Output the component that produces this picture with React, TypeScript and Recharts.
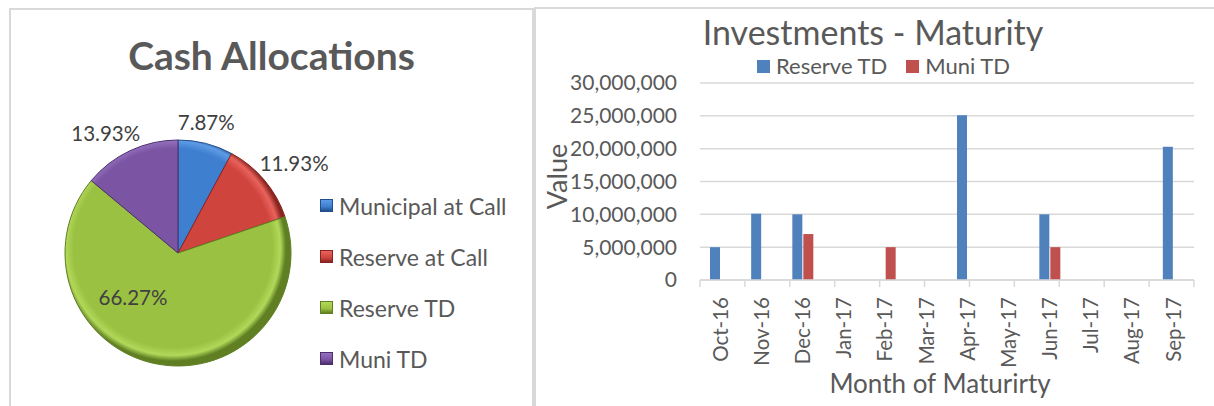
import { PieChart, Pie, Cell, Legend, BarChart, Bar, XAxis, YAxis, CartesianGrid, Label } from 'recharts'

// ---- data ----
const allocNames = ['Municipal at Call', 'Reserve at Call', 'Reserve TD', 'Muni TD']
const allocPct = [7.87, 11.93, 66.27, 13.93]

const months = ['Oct-16', 'Nov-16', 'Dec-16', 'Jan-17', 'Feb-17', 'Mar-17', 'Apr-17', 'May-17', 'Jun-17', 'Jul-17', 'Aug-17', 'Sep-17']
const reserveTD = [5000000, 10100000, 10000000, 0, 0, 0, 25100000, 0, 10000000, 0, 0, 20300000]
const muniTD = [0, 0, 7000000, 0, 5000000, 0, 0, 0, 5000000, 0, 0, 0]
const yTicks = [0, 5000000, 10000000, 15000000, 20000000, 25000000, 30000000]

// ---- styles ----
const FONT = 'Lato, "Noto Sans", sans-serif'
const sliceColors = [
  { base: '#3f7fd0', light: '#5d9be6', dark: '#1f4f8c' },
  { base: '#d0443e', light: '#e8625b', dark: '#8a2420' },
  { base: '#9bc143', light: '#b2d85a', dark: '#5f7f22' },
  { base: '#7b55a3', light: '#9470bd', dark: '#4b2f6d' },
]
const BLUE = '#4f81bd'
const RED = '#c0504d'
const GRID = '#d9d9d9'
const PIE_CX = 173
const PIE_CY = 248
const PIE_R = 113
// radius / angle nudge for each pie label (Excel "best fit" placement)
const labelPlace = [
  { r: 134, da: 2 },
  { r: 147, da: -2.4 },
  { r: 63, da: -35 },
  { r: 140, da: 6 },
]

const pieData = allocNames.map((name, i) => ({ name, value: allocPct[i] }))
const barData = months.map((month, i) => ({ month, reserve: reserveTD[i], muni: muniTD[i] }))
const edgeTicks = months.map((_, i) => i).concat(months.length)

const RAD = Math.PI / 180

function PieLabel({ cx, cy, midAngle, index, value }: any) {
  const p = labelPlace[index]
  const a = (midAngle + p.da) * RAD
  const x = cx + p.r * Math.cos(a)
  const y = cy - p.r * Math.sin(a)
  return (
    <text x={x} y={y} textAnchor="middle" dominantBaseline="central"
      style={{ fontFamily: FONT, fontSize: 20.5, fill: '#404040' }}>
      {value.toFixed(2)}%
    </text>
  )
}

function PieLegend() {
  return (
    <div style={{ fontFamily: FONT }}>
      {allocNames.map((n, i) => (
        <div key={n} style={{ display: 'flex', alignItems: 'center', height: 51 }}>
          <span style={{
            width: 11, height: 11, marginRight: 6, display: 'inline-block',
            background: `linear-gradient(180deg, ${sliceColors[i].light}, ${sliceColors[i].base} 60%, ${sliceColors[i].dark})`,
            border: `1px solid ${sliceColors[i].dark}`,
          }} />
          <span style={{ fontSize: 23, color: '#595959' }}>{n}</span>
        </div>
      ))}
    </div>
  )
}

function MonthTick({ x, y, payload }: any) {
  return (
    <text x={x} y={y + 16} transform={`rotate(-90, ${x}, ${y + 16})`} textAnchor="end" dy="0.35em"
      style={{ fontFamily: FONT, fontSize: 20.5, fill: '#595959' }}>
      {payload.value}
    </text>
  )
}

const NoTick = () => <g />

export default function App() {
  return (
    <div style={{ position: 'absolute', left: 0, top: 0, width: 1214, height: 406, background: '#fff', overflow: 'hidden', fontFamily: FONT }}>
      {/* panel frames */}
      <div style={{ position: 'absolute', left: 9, top: 8, width: 525, height: 400, boxSizing: 'border-box', borderLeft: `2px solid ${GRID}`, borderTop: `2px solid ${GRID}`, borderRight: `2px solid ${GRID}` }} />
      <div style={{ position: 'absolute', left: 534, top: 7, width: 690, height: 400, boxSizing: 'border-box', borderLeft: `2px solid ${GRID}`, borderTop: `2px solid ${GRID}` }} />

      <div style={{ position: 'absolute', left: 9, top: 32, width: 525, textAlign: 'center', fontSize: 39, fontWeight: 700, color: '#595959', lineHeight: 1.2 }}>
        Cash Allocations
      </div>

      <div style={{ position: 'absolute', left: 0, top: 0 }}>
        <PieChart width={534} height={406}>
          <defs>
            {sliceColors.map((c, i) => (
              <radialGradient key={i} id={`slice${i}`} gradientUnits="userSpaceOnUse" cx={PIE_CX} cy={PIE_CY} r={PIE_R}>
                <stop offset="0%" stopColor={c.base} />
                <stop offset="88%" stopColor={c.base} />
                <stop offset="95%" stopColor={c.light} />
                <stop offset="100%" stopColor={c.dark} />
              </radialGradient>
            ))}
          </defs>
          <Pie data={pieData} dataKey="value" nameKey="name" cx={PIE_CX} cy={PIE_CY} outerRadius={PIE_R}
            startAngle={90} endAngle={-270} label={PieLabel} labelLine={false} isAnimationActive={false}>
            {pieData.map((d, i) => (
              <Cell key={d.name} fill={`url(#slice${i})`} stroke={sliceColors[i].dark} strokeWidth={1} />
            ))}
          </Pie>
          <Legend content={<PieLegend />} wrapperStyle={{ position: 'absolute', left: 320, top: 180, width: 210 }} />
        </PieChart>
      </div>

      <div style={{ position: 'absolute', left: 534, top: 12, width: 680, textAlign: 'center', lineHeight: 1.2 }}>
        <div style={{ fontSize: 34, color: '#595959', paddingRight: 2 }}>Investments - Maturity</div>
      </div>
      <div style={{ position: 'absolute', left: 757, top: 53, display: 'flex', alignItems: 'center', fontSize: 22, color: '#595959', lineHeight: 1.2 }}>
        <span style={{ width: 13, height: 13, background: BLUE, display: 'inline-block', marginRight: 6 }} />
        <span style={{ marginRight: 19 }}>Reserve TD</span>
        <span style={{ width: 13, height: 13, background: RED, display: 'inline-block', marginRight: 6 }} />
        <span>Muni TD</span>
      </div>

      <div style={{ position: 'absolute', left: 534, top: 7 }}>
        <BarChart width={680} height={399} data={barData} margin={{ top: 76, right: 20, bottom: 0, left: 0 }}
          barGap={1} barSize={10}>
          <CartesianGrid xAxisId={1} horizontal vertical={false} stroke={GRID} strokeWidth={1.5} />
          {/* boundary tick marks between month bands, closest to the plot */}
          <XAxis xAxisId={0} type="number" domain={[0, months.length]} ticks={edgeTicks} tick={<NoTick />} interval={0}
            height={1} axisLine={{ stroke: GRID, strokeWidth: 1.5 }} tickLine={{ stroke: GRID, strokeWidth: 1.5 }} tickSize={7} />
          <XAxis xAxisId={1} dataKey="month" interval={0} height={125} axisLine={false} tickLine={false} tickSize={0} tickMargin={0}
            tick={<MonthTick />}>
            <Label content={({ viewBox }: any) => (
              <text x={viewBox.x + viewBox.width / 2 - 7} y={viewBox.y + 102} textAnchor="middle" dominantBaseline="central"
                style={{ fontFamily: FONT, fontSize: 26, fill: '#595959' }}>Month of Maturirty</text>
            )} />
          </XAxis>
          <YAxis width={166} domain={[0, 30000000]} ticks={yTicks} interval={0} axisLine={false} tickLine={false}
            tickSize={0} tickMargin={23} tickFormatter={(v: number) => v.toLocaleString('en-US')}
            tick={{ fontFamily: FONT, fontSize: 21, fill: '#595959' }}>
            <Label content={({ viewBox }: any) => (
              <text x={22} y={viewBox.y + viewBox.height / 2 - 5} transform={`rotate(-90, 22, ${viewBox.y + viewBox.height / 2 - 5})`}
                textAnchor="middle" dominantBaseline="central" style={{ fontFamily: FONT, fontSize: 27, fill: '#595959' }}>Value</text>
            )} />
          </YAxis>
          <Bar xAxisId={1} dataKey="reserve" name="Reserve TD" fill={BLUE} isAnimationActive={false} />
          <Bar xAxisId={1} dataKey="muni" name="Muni TD" fill={RED} isAnimationActive={false} />
        </BarChart>
      </div>
    </div>
  )
}
